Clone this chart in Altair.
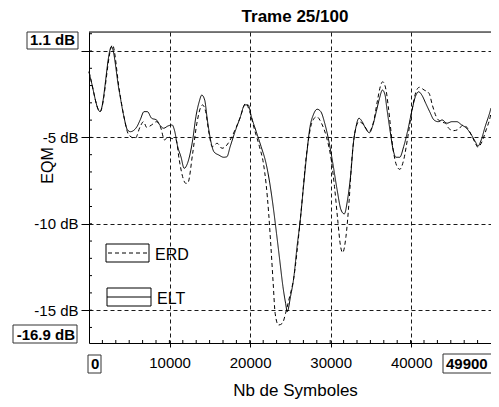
import altair as alt
import pandas as pd

# ---------------- data ----------------
elt_x = [0, 243, 1372, 2792, 3727, 4334, 4735, 5136, 5949, 6350,
         6835, 7248, 7770, 8378, 8778, 9264, 9798, 10320, 10599, 11012,
         11412, 11813, 12226, 12869, 13270, 13683, 13999, 14363, 14691, 15092,
         15505, 16112, 16719, 17119, 17520, 18127, 18734, 19341, 19754, 20154,
         20761, 21368, 21975, 22376, 22862, 23274, 23675, 24075, 24403, 24609,
         25010, 25411, 25824, 26225, 26625, 27038, 27439, 27840, 28325, 28774,
         29260, 29745, 30267, 30801, 31287, 31688, 32089, 32502, 32817, 33108,
         33509, 33910, 34323, 34808, 35245, 35658, 36059, 36423, 36751, 36945,
         37358, 37758, 38086, 38572, 39057, 39579, 40101, 40514, 40915, 41315,
         41801, 42287, 42821, 43343, 43829, 44436, 45043, 45650, 46257, 46864,
         47471, 47957, 48285, 48685, 49171, 49778, 49900]
elt_y = [-1.20, -1.68, -3.51, 0.25, -2.26, -3.80, -4.53, -4.67, -4.38, -3.99,
         -3.51, -3.51, -3.89, -3.99, -4.28, -4.47, -4.34, -4.28, -4.57, -5.54,
         -6.12, -6.79, -6.50, -5.15, -3.80, -2.93, -2.55, -2.84, -3.99, -5.15,
         -5.83, -6.02, -6.15, -6.12, -5.54, -4.67, -3.89, -3.12, -3.12, -3.80,
         -4.67, -5.54, -6.50, -7.47, -9.01, -10.55, -12.10, -13.64, -14.60, -15.09,
         -14.22, -13.15, -11.33, -9.78, -7.85, -5.92, -4.38, -3.70, -3.37, -3.51,
         -4.18, -5.15, -6.50, -8.04, -9.20, -9.43, -8.62, -7.08, -5.34, -4.47,
         -3.89, -4.09, -4.47, -4.73, -4.28, -3.51, -2.74, -2.26, -2.55, -3.22,
         -4.57, -5.73, -6.15, -6.15, -5.54, -4.57, -3.41, -2.64, -2.36, -2.55,
         -3.03, -3.51, -3.99, -4.09, -3.99, -4.18, -4.09, -4.09, -4.28, -4.47,
         -4.86, -5.25, -5.50, -5.15, -4.38, -3.51, -3.30]

erd_x = [0, 243, 1372, 2914, 3764, 4371, 4941, 5743, 6350, 6763,
         7163, 7770, 8378, 8863, 9385, 9798, 10198, 10805, 11206, 11619,
         12020, 12263, 12869, 13391, 14083, 14484, 14897, 15298, 15905, 16512,
         17119, 17520, 18127, 18734, 19462, 19948, 20555, 21162, 21648, 21975,
         22303, 22582, 22862, 23105, 23517, 24003, 24403, 24804, 25411, 26225,
         27038, 27645, 28252, 28859, 29466, 30073, 30473, 30874, 31202, 31481,
         31894, 32295, 32623, 32987, 33509, 34116, 34723, 35330, 35816, 36216,
         36459, 36872, 37152, 37758, 38159, 38572, 39057, 39579, 40101, 40587,
         40999, 41606, 42213, 42614, 43100, 43622, 44229, 44642, 45249, 45856,
         46463, 46985, 47471, 47957, 48285, 48685, 49292, 49778, 49900]
erd_y = [-1.20, -1.68, -3.51, 0.35, -2.26, -3.88, -4.86, -5.05, -4.38, -4.09,
         -4.42, -4.28, -4.09, -4.38, -5.15, -4.96, -5.05, -5.15, -6.31, -7.27,
         -7.66, -7.64, -5.92, -4.18, -3.12, -3.51, -4.76, -5.54, -5.34, -5.63,
         -5.44, -5.15, -4.57, -3.89, -3.03, -3.51, -4.57, -5.54, -6.50, -7.66,
         -9.39, -11.33, -13.44, -15.18, -15.86, -15.76, -15.18, -14.41, -13.15, -9.78,
         -5.83, -4.18, -3.80, -4.18, -4.96, -6.31, -7.85, -9.78, -11.23, -11.67,
         -10.75, -8.62, -6.31, -4.76, -4.09, -4.28, -4.67, -4.09, -2.84, -1.97,
         -1.78, -2.26, -3.22, -5.73, -6.60, -6.85, -6.31, -4.96, -3.41, -2.36,
         -2.10, -2.26, -2.45, -3.12, -3.80, -4.09, -4.18, -4.47, -4.61, -4.53,
         -4.28, -4.47, -4.86, -5.34, -5.57, -5.34, -4.57, -3.86, -3.60]

series_names = ["ERD", "ELT"]
x_major = [10000, 20000, 30000, 40000]
y_major = [-15, -10, -5, 0]
x_range = [0, 49900]
y_range = [-16.9, 1.1]
title_text = "Trame 25/100"
x_title = "Nb de Symboles"
y_title = "EQM"

# ---------------- layout constants ----------------
W, H = 402, 311
FONT = "Liberation Sans"
GRID = "#1a1a1a"
CENTER = 206

xs = alt.Scale(domain=x_range, nice=False, zero=False)
ys = alt.Scale(domain=y_range, nice=False, zero=False)

x_axis = alt.Axis(
    values=x_major, format="d", grid=True, gridDash=[4, 3], gridColor=GRID, gridWidth=1,
    domainColor="black", tickColor="black", tickSize=4, labelPadding=8,
    labelFont=FONT, labelFontSize=15, labelColor="black", labelFlush=False,
    titleFont=FONT, titleFontSize=17, titleFontWeight="normal", titleColor="black",
    titleX=CENTER, titleY=52, titleAlign="center", titleBaseline="alphabetic")
y_axis = alt.Axis(
    values=y_major, grid=True, gridDash=[4, 3], gridColor=GRID, gridWidth=1,
    domainColor="black", tickColor="black", tickSize=8, labelPadding=3,
    labelFont=FONT, labelFontSize=15, labelColor="black", labelFlush=False,
    labelExpr="datum.value == 0 ? '' : datum.value + ' dB'",
    titleFont=FONT, titleFontSize=16, titleFontWeight="normal", titleColor="black",
    titleAngle=270, titleX=-37, titleY=133, titleAlign="center", titleBaseline="alphabetic")

df = pd.concat([
    pd.DataFrame({"x": erd_x, "y": erd_y, "s": series_names[0]}),
    pd.DataFrame({"x": elt_x, "y": elt_y, "s": series_names[1]}),
], ignore_index=True)

lines = alt.Chart(df).mark_line(color="black", strokeWidth=1, interpolate="monotone").encode(
    x=alt.X("x:Q", scale=xs, title=x_title, axis=x_axis),
    y=alt.Y("y:Q", scale=ys, title=y_title, axis=y_axis),
    strokeDash=alt.StrokeDash("s:N", scale=alt.Scale(domain=series_names, range=[[4, 3], [1, 0]]), legend=None),
    detail="s:N",
)

# minor ticks pointing inward
y_minor = [v for v in range(-16, 2)]
x_minor = [k * 49900 / 30 for k in range(1, 30)]
ytick = alt.Chart(pd.DataFrame({"v": y_minor})).mark_rule(color="black", strokeWidth=1).encode(
    y=alt.Y("v:Q", scale=ys, title=y_title, axis=y_axis), x=alt.value(0), x2=alt.value(3))
xtick = alt.Chart(pd.DataFrame({"v": x_minor})).mark_rule(color="black", strokeWidth=1).encode(
    x=alt.X("v:Q", scale=xs, title=x_title, axis=x_axis), y=alt.value(H), y2=alt.value(H - 3))

one = pd.DataFrame({"a": [0]})

top_border = alt.Chart(one).mark_rule(color="black", strokeWidth=1).encode(
    x=alt.value(0), x2=alt.value(W + 5), y=alt.value(0))


def box(x1, x2, y1, y2, stroke="#333"):
    return alt.Chart(one).mark_rect(fill="white", stroke=stroke, strokeWidth=1).encode(
        x=alt.value(x1), x2=alt.value(x2), y=alt.value(y1), y2=alt.value(y2))


def label(txt, x, y, align, bold=True, size=15):
    return alt.Chart(one).mark_text(text=txt, align=align, baseline="alphabetic", font=FONT,
                                    fontSize=size, fontWeight="bold" if bold else "normal",
                                    color="black").encode(x=alt.value(x), y=alt.value(y))


def fmt(v):
    return f"{v:g}"


annot = [
    box(-62, -11, 0, 17), label(fmt(y_range[1]) + " dB", -14, 13, "right"),
    box(-76, -12, 293, 311), label(fmt(y_range[0]) + " dB", -14, 308, "right"),
    box(-1, 12, 323, 341), label(fmt(x_range[0]), 2, 337, "left"),
    box(W - 48, W + 3, 322, 341), label(fmt(x_range[1]), W - 45, 337, "left"),
    label(title_text, CENTER, -10, "center", bold=True, size=17),
]

# legend drawn by hand
leg = [
    box(17, 60, 212, 230, stroke="black"),
    alt.Chart(one).mark_rule(color="black", strokeWidth=1, strokeDash=[4, 3]).encode(
        x=alt.value(19), x2=alt.value(59), y=alt.value(221)),
    label(series_names[0], 66, 228, "left", bold=False, size=16),
    box(18, 62, 256, 274, stroke="black"),
    alt.Chart(one).mark_rule(color="black", strokeWidth=1).encode(
        x=alt.value(18), x2=alt.value(62), y=alt.value(265)),
    label(series_names[1], 68, 272, "left", bold=False, size=16),
]

chart = alt.layer(lines, ytick, xtick, top_border, *annot, *leg).properties(
    width=W, height=H,
    autosize=alt.AutoSizeParams(type="none"),
    padding={"left": 81, "top": 24, "right": 0, "bottom": 56},
).configure_view(stroke=None).configure(background="white")

chart.save("out.html", embed_options={"renderer": "svg", "actions": False})
